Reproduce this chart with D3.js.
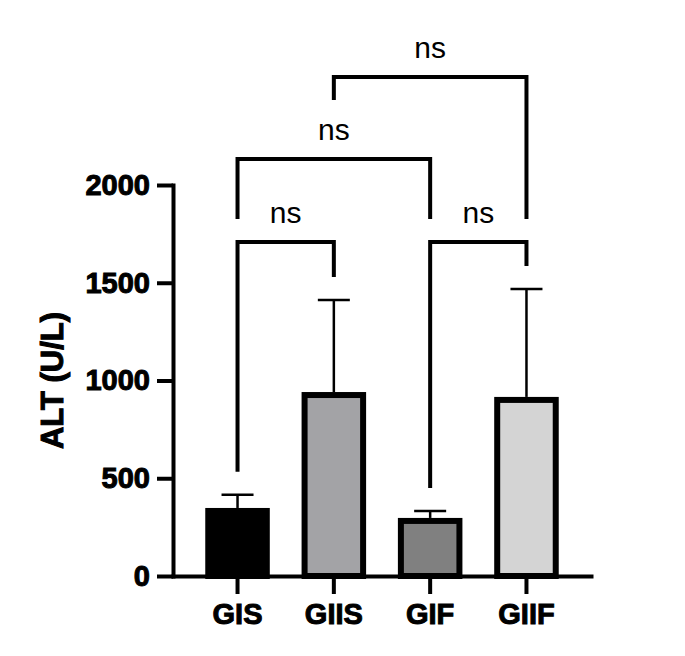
<!DOCTYPE html>
<html>
<head>
<meta charset="utf-8">
<script src="https://cdn.jsdelivr.net/npm/d3@7"></script>
<style>
  html, body { margin: 0; padding: 0; background: #fff; }
  svg text { font-family: "Liberation Sans", Arial, sans-serif; }
</style>
</head>
<body>
<svg id="chart" width="685" height="656"></svg>
<script>
// Groups, means and SD
const groups = ['GIS', 'GIIS', 'GIF', 'GIIF'];
const means = [348, 941, 297, 916];
const sds = [67, 471, 35, 552];
const fills = ['#000000', '#a3a3a6', '#808080', '#d4d4d4'];
const yTicks = [0, 500, 1000, 1500, 2000];

// Significance brackets: pair of groups and the bracket height (data units)
const pairs = [['GIS', 'GIIS'], ['GIF', 'GIIF'], ['GIS', 'GIF'], ['GIIS', 'GIIF']];
const pairLevels = [1708, 1708, 2133, 2552];
const pairLabels = ['ns', 'ns', 'ns', 'ns'];

const svg = d3.select('#chart');

const x = d3.scaleBand()
  .domain(groups)
  .range([173, 591])
  .paddingInner(0.33)
  .paddingOuter(0.335);

const y = d3.scaleLinear()
  .domain([0, 2000])
  .range([576, 185]);

const barStroke = 6;
const gap = 23;

// Bars with thick black outline
svg.append('g')
  .selectAll('rect')
  .data(groups)
  .enter()
  .append('rect')
  .attr('x', d => x(d) + barStroke / 2)
  .attr('y', (d, i) => y(means[i]) + barStroke / 2)
  .attr('width', x.bandwidth() - barStroke)
  .attr('height', (d, i) => y(0) - y(means[i]) - barStroke / 2)
  .attr('fill', (d, i) => fills[i])
  .attr('stroke', '#000')
  .attr('stroke-width', barStroke);

// Error bars (mean + SD only)
const err = svg.append('g')
  .attr('stroke', '#000')
  .attr('stroke-width', 2.5);

groups.forEach((g, i) => {
  const cx = x(g) + x.bandwidth() / 2;
  err.append('line')
    .attr('x1', cx).attr('x2', cx)
    .attr('y1', y(means[i])).attr('y2', y(means[i] + sds[i]));
  err.append('line')
    .attr('x1', cx - 16).attr('x2', cx + 16)
    .attr('y1', y(means[i] + sds[i])).attr('y2', y(means[i] + sds[i]));
});

// Axes
const yAxis = svg.append('g')
  .attr('transform', 'translate(173,0)')
  .call(d3.axisLeft(y).tickValues(yTicks).tickFormat(d3.format('d'))
    .tickSize(16).tickSizeOuter(0).tickPadding(7));

const xAxis = svg.append('g')
  .attr('transform', `translate(0,${y(0)})`)
  .call(d3.axisBottom(x).tickSize(18).tickSizeOuter(0).tickPadding(9));

[yAxis, xAxis].forEach(ax => {
  ax.select('.domain').attr('stroke-width', 4).attr('stroke-linecap', 'square');
  ax.selectAll('.tick line').attr('stroke-width', 4);
  ax.selectAll('.tick text')
    .attr('fill', '#000')
    .attr('stroke', '#000')
    .attr('stroke-width', 1)
    .attr('font-size', 29)
    .attr('font-weight', 'bold');
});

xAxis.selectAll('.tick text').attr('dy', '0.71em');

svg.append('text')
  .attr('transform', `translate(63,${(y(0) + y(2000)) / 2}) rotate(-90)`)
  .attr('text-anchor', 'middle')
  .attr('font-size', 31)
  .attr('font-weight', 'bold')
  .attr('stroke', '#000')
  .attr('stroke-width', 1)
  .text('ALT (U/L)');

// Brackets: each drop line stops a fixed gap above whatever lies below it
const center = g => x(g) + x.bandwidth() / 2;
const idx = g => groups.indexOf(g);
const drawn = [];

const br = svg.append('g')
  .attr('fill', 'none')
  .attr('stroke', '#000')
  .attr('stroke-width', 4);

pairs.forEach((p, k) => {
  const x1 = center(p[0]);
  const x2 = center(p[1]);
  const ly = y(pairLevels[k]);

  const dropEnd = g => {
    const cx = center(g);
    let top = y(means[idx(g)] + sds[idx(g)]);
    drawn.forEach(b => {
      if (cx >= b.x1 - 1 && cx <= b.x2 + 1) top = Math.min(top, b.y);
      if (Math.abs(cx - (b.x1 + b.x2) / 2) < 20) top = Math.min(top, b.y - 36);
    });
    return top - gap;
  };

  br.append('path')
    .attr('d', `M${x1},${dropEnd(p[0])}V${ly}H${x2}V${dropEnd(p[1])}`);

  svg.append('text')
    .attr('x', (x1 + x2) / 2)
    .attr('y', ly - 19)
    .attr('text-anchor', 'middle')
    .attr('font-size', 30)
    .attr('fill', '#000')
    .text(pairLabels[k]);

  drawn.push({ x1: x1, x2: x2, y: ly });
});
</script>
</body>
</html>
